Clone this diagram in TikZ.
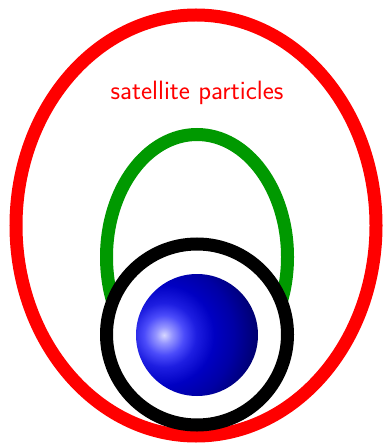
\documentclass[tikz,border=0pt]{standalone}
\usetikzlibrary{shadings}
\definecolor{bA}{RGB}{215,215,255}
\definecolor{bB}{RGB}{150,150,255}
\definecolor{bC}{RGB}{75,75,250}
\definecolor{bD}{RGB}{30,30,225}
\definecolor{bE}{RGB}{0,0,195}
\definecolor{bF}{RGB}{0,0,165}
\definecolor{bG}{RGB}{0,0,110}
\definecolor{bH}{RGB}{0,0,100}
% 25bp of the shading = radius of the shaded circle (100 units here, so 1bp = 4 units)
\pgfdeclareradialshading{myball}{\pgfpoint{0bp}{0bp}}{color(0bp)=(bA); color(2bp)=(bB); color(5bp)=(bC); color(8bp)=(bD); color(12.5bp)=(bE); color(17.5bp)=(bF); color(23.5bp)=(bG); color(25bp)=(bH); color(50bp)=(bH)}
\tikzset{
  ring/.style={line width=13pt},
  lbl/.style={text=red, font=\sffamily\fontsize{26.5}{30}\selectfont, inner sep=0pt, anchor=base}
}
\begin{document}
\begin{tikzpicture}[x=1pt,y=1pt]
\useasboundingbox (0,0) rectangle (382,-443);
\draw[ring, red] (196,-225.5) ellipse [x radius=180, y radius=210.5];
\node[lbl] (title) at (197,-100) {satellite particles};
\draw[ring, green!60!black] (197,-257) ellipse [x radius=90.5, y radius=122.5];
\draw[ring, black, fill=white] (197,-334.5) circle [radius=90.5];
\begin{scope}
  \clip (197,-335) circle [radius=61];
  \shade[shading=myball] (164,-335) circle [radius=100];
\end{scope}
\end{tikzpicture}
\end{document}
